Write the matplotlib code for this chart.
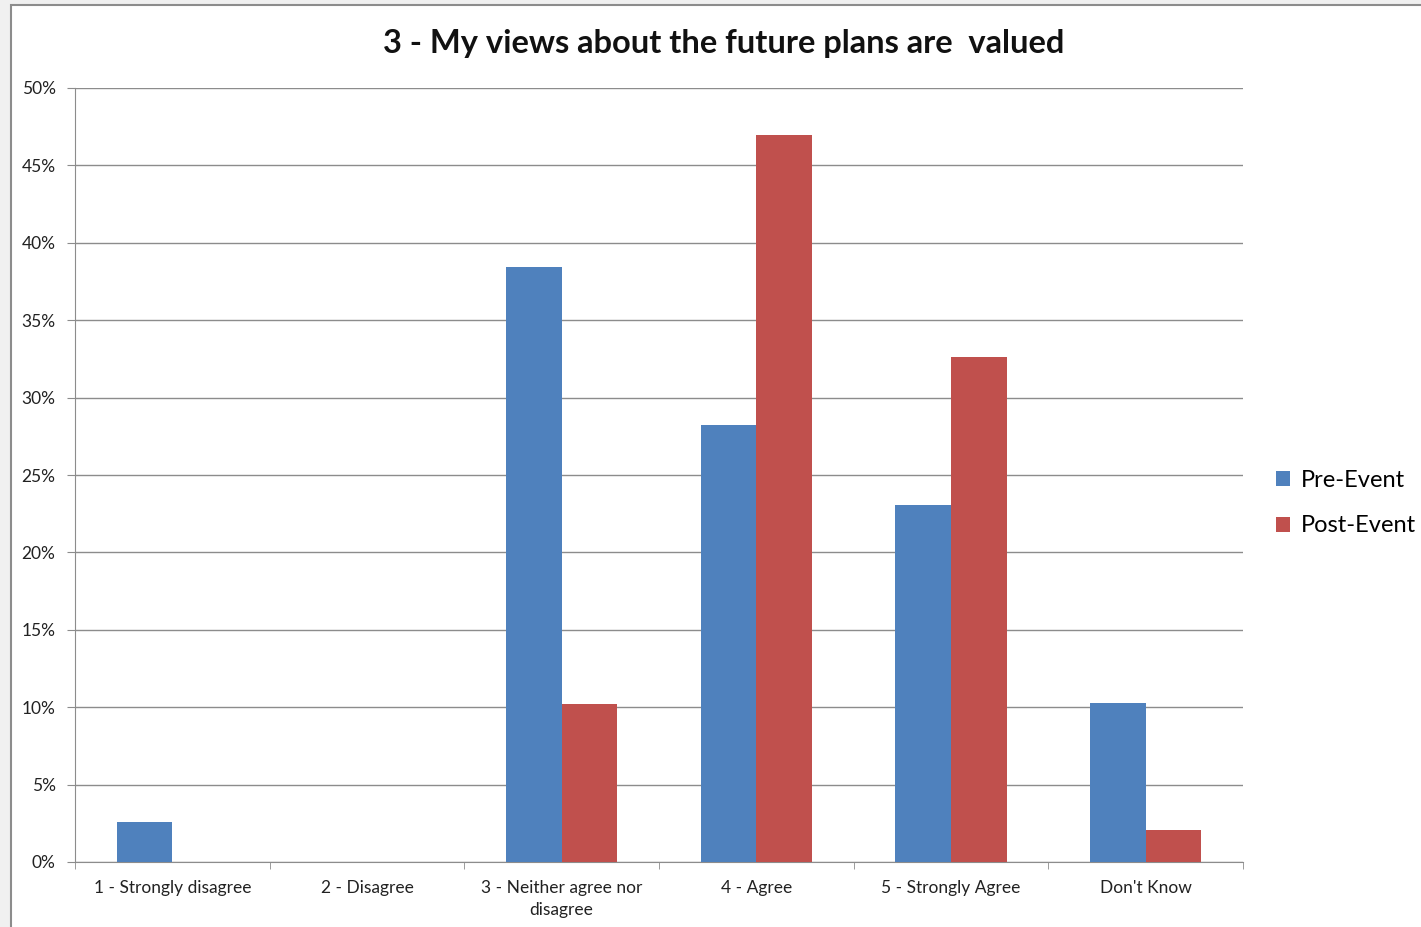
import matplotlib.pyplot as plt
import matplotlib.patches as mpatches
import numpy as np

plt.rcParams['font.family'] = ['Lato', 'DejaVu Sans']

categories = ['1 - Strongly disagree', '2 - Disagree', '3 - Neither agree nor\ndisagree',
              '4 - Agree', '5 - Strongly Agree', "Don't Know"]
pre_event = [2.56, 0, 38.46, 28.21, 23.08, 10.26]
post_event = [0, 0, 10.2, 46.94, 32.65, 2.04]
series_names = ['Pre-Event', 'Post-Event']
title = '3 - My views about the future plans are  valued'

W, H = 1421, 927
fig = plt.figure(figsize=(W / 100, H / 100), dpi=100, facecolor='#f0f0f0')

# chart frame (cropped at right / bottom)
frame = mpatches.Rectangle((11 / W, -0.05), 1.2, 1 - 5 / H + 0.05, transform=fig.transFigure,
                           facecolor='white', edgecolor='#8c8c8c', linewidth=1.5, zorder=-10)
fig.patches.append(frame)

ax = fig.add_axes([75 / W, 1 - 862 / H, (1243 - 75) / W, (862 - 88) / H])
ax.set_facecolor('none')

x = np.arange(len(categories))
bw = 1 / 3.5
ax.bar(x - bw / 2, pre_event, bw, color='#4f81bd', label=series_names[0], zorder=3)
ax.bar(x + bw / 2, post_event, bw, color='#c0504d', label=series_names[1], zorder=3)

ax.set_xlim(-0.5, len(categories) - 0.5)
ax.set_ylim(0, 50)
ax.set_yticks(np.arange(0, 51, 5))
ax.set_yticklabels([f'{v}%' for v in range(0, 51, 5)])
ax.yaxis.grid(True, color='#8c8c8c', linewidth=1)
ax.set_axisbelow(True)

ax.set_xticks(x)
ax.set_xticklabels(categories, linespacing=1.45)
ax.set_xticks(np.arange(-0.5, len(categories), 1), minor=True)
ax.tick_params(axis='x', which='major', length=0, pad=13, labelsize=12.5, colors='#222222')
ax.tick_params(axis='x', which='minor', length=5, color='#8c8c8c', direction='out')
ax.tick_params(axis='y', length=6, color='#8c8c8c', pad=8, labelsize=12.5, labelcolor='#222222')

for s in ['top', 'right']:
    ax.spines[s].set_visible(False)
for s in ['left', 'bottom']:
    ax.spines[s].set_color('#8c8c8c')

fig.text(724 / W, 1 - 44 / H, title, ha='center', va='center', fontsize=23.5, fontweight='bold',
         color='#111111')

leg = fig.legend(loc='center left', bbox_to_anchor=(1276 / W, 1 - 503 / H), frameon=False,
                 fontsize=17, handlelength=0.6, handleheight=0.6, handletextpad=0.45,
                 labelspacing=1.05, borderpad=0, borderaxespad=0)

fig.savefig('out.png', dpi=100, facecolor=fig.get_facecolor())
